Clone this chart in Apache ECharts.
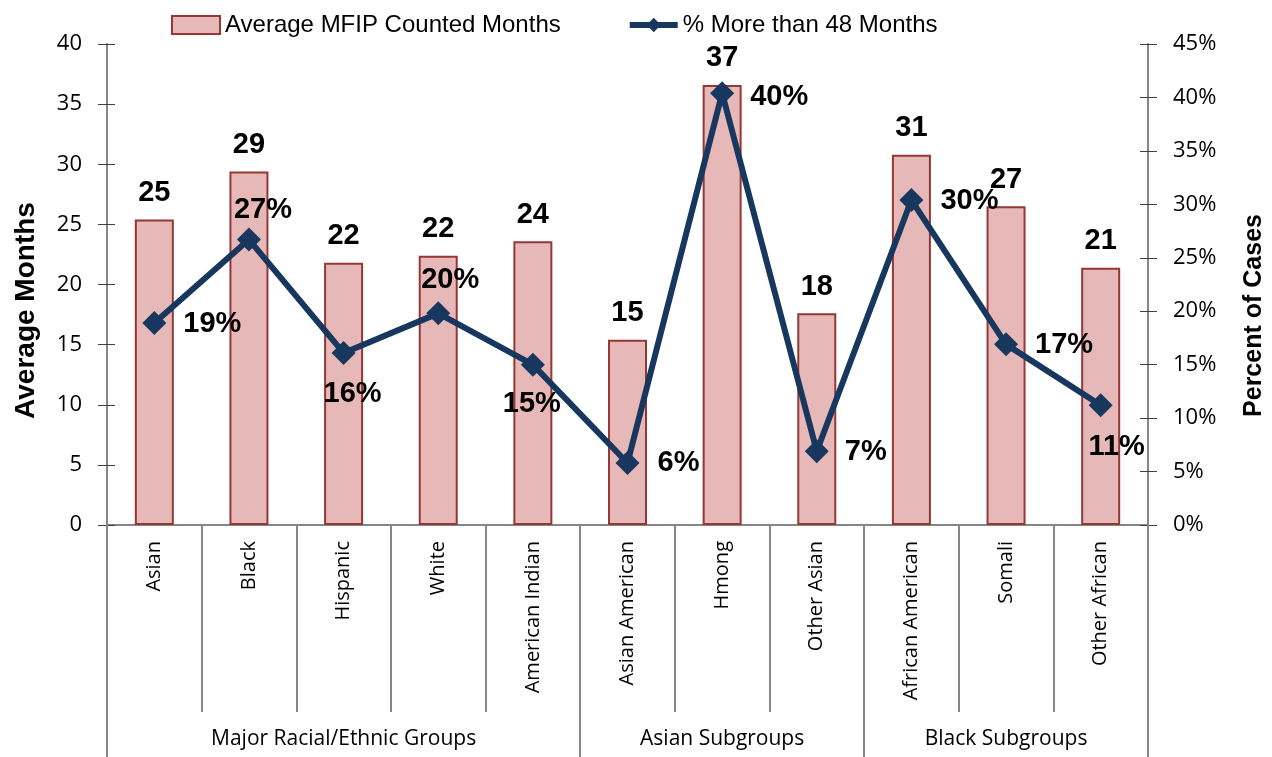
<!DOCTYPE html>
<html>
<head>
<meta charset="utf-8">
<script src="https://cdn.jsdelivr.net/npm/echarts@6/dist/echarts.min.js"></script>
<style>html,body{margin:0;padding:0;background:#fff;}#c{width:1272px;height:757px;}</style>
</head>
<body>
<div id="c"></div>
<script>
const categories = ['Asian','Black','Hispanic','White','American Indian','Asian American','Hmong','Other Asian','African American','Somali','Other African'];
const groupLabels = ['', '', 'Major Racial/Ethnic Groups', '', '', '', 'Asian Subgroups', '', '', 'Black Subgroups', ''];
const groupStartIndices = [0, 5, 8];
const avgMonths = [25.4, 29.4, 21.8, 22.4, 23.6, 15.4, 36.6, 17.6, 30.8, 26.5, 21.4];
const pctOver48 = [18.9, 26.7, 16.1, 19.8, 15.0, 5.8, 40.4, 6.9, 30.4, 16.9, 11.2];
const leftTicks = {min: 0, max: 40, interval: 5};
const rightTicks = {min: 0, max: 45, interval: 5};

// label placement for the line labels (style only)
const labelPlacement = ['right','top','bottom','top','bottom','right','right','right','right','right','bottom'];
const labelShift = [[7,1],[14,7],[9,5],[12,3],[-1,3],[8,0],[6,4],[6,1],[7,1],[7,1],[16,5]];

const chart = echarts.init(document.getElementById('c'), null, {renderer:'canvas'});
const axisGray = '#868686';
const baseFont = 'Open Sans';
const lineData = pctOver48.map((v, i) => ({
  value: v,
  label: {position: labelPlacement[i], offset: labelShift[i]}
}));

const option = {
  animation: false,
  backgroundColor: '#ffffff',
  legend: {
    top: 8, left: 166,
    itemGap: 66,
    itemWidth: 48, itemHeight: 18,
    textStyle: {fontFamily: 'Liberation Sans', fontSize: 24, color: '#000'},
    data: [
      {name: 'Average MFIP Counted Months', icon: 'rect'},
      {name: '% More than 48 Months', lineStyle: {width: 6, color: '#17375E'}}
    ]
  },
  grid: {left: 107, right: 124, top: 44, bottom: 232, containLabel: false, outerBoundsMode: 'none'},
  xAxis: [
    {
      type: 'category', data: categories, position: 'bottom',
      axisLine: {show: true, lineStyle: {color: axisGray, width: 2}},
      axisTick: {show: true, length: 187, lineStyle: {color: axisGray, width: 2}},
      axisLabel: {rotate: 90, interval: 0, margin: 16, fontFamily: baseFont, fontSize: 20, color: '#000'}
    },
    {
      type: 'category', data: groupLabels, position: 'bottom',
      axisLine: {show: false},
      axisTick: {show: true, length: 232, interval: (i) => groupStartIndices.indexOf(i) >= 0, lineStyle: {color: axisGray, width: 2}},
      axisLabel: {interval: 0, margin: 204, fontFamily: baseFont, fontSize: 21, color: '#000'}
    }
  ],
  yAxis: [
    {
      type: 'value', position: 'left', min: leftTicks.min, max: leftTicks.max, interval: leftTicks.interval,
      name: 'Average Months', nameLocation: 'middle', nameRotate: 90, nameGap: 67,
      nameTextStyle: {fontFamily: 'Liberation Sans', fontWeight: 'bold', fontSize: 28, color: '#000', padding: [0, 52, 0, 0]},
      axisLine: {show: true, lineStyle: {color: axisGray, width: 2}},
      axisTick: {show: true, length: 9, lineStyle: {color: '#404040', width: 1}},
      axisLabel: {margin: 25, fontFamily: baseFont, fontSize: 22, color: '#000'},
      splitLine: {show: false}
    },
    {
      type: 'value', position: 'right', min: rightTicks.min, max: rightTicks.max, interval: rightTicks.interval,
      name: 'Percent of Cases', nameLocation: 'middle', nameRotate: 90, nameGap: 94,
      nameTextStyle: {fontFamily: 'Liberation Sans', fontWeight: 'bold', fontSize: 25, color: '#000', padding: [0, 62, 0, 0]},
      axisLine: {show: true, lineStyle: {color: axisGray, width: 2}},
      axisTick: {show: true, length: 9, lineStyle: {color: '#404040', width: 1}},
      axisLabel: {margin: 25, fontFamily: baseFont, fontSize: 22, color: '#000', formatter: '{value}%'},
      splitLine: {show: false}
    },
    {
      type: 'value', position: 'left', min: leftTicks.min, max: leftTicks.max, interval: leftTicks.interval,
      axisLine: {show: false}, axisLabel: {show: false}, splitLine: {show: false},
      axisTick: {show: true, inside: true, length: 8, lineStyle: {color: '#404040', width: 1}}
    },
    {
      type: 'value', position: 'right', min: rightTicks.min, max: rightTicks.max, interval: rightTicks.interval,
      axisLine: {show: false}, axisLabel: {show: false}, splitLine: {show: false},
      axisTick: {show: true, inside: true, length: 8, lineStyle: {color: '#404040', width: 1}}
    }
  ],
  series: [
    {
      name: 'Average MFIP Counted Months', type: 'bar', xAxisIndex: 0, yAxisIndex: 0,
      data: avgMonths, barWidth: 39,
      itemStyle: {color: '#E6B9B8', borderColor: '#953735', borderWidth: 2},
      label: {show: true, position: 'top', distance: 12, fontFamily: 'Liberation Sans', fontWeight: 'bold', fontSize: 29, color: '#000',
        formatter: (p) => Math.round(p.value)},
      z: 2
    },
    {
      name: '% More than 48 Months', type: 'line', xAxisIndex: 0, yAxisIndex: 1,
      data: lineData,
      symbol: 'diamond', symbolSize: 24,
      lineStyle: {color: '#17375E', width: 6},
      itemStyle: {color: '#17375E'},
      label: {show: true, distance: 10, fontFamily: 'Liberation Sans', fontWeight: 'bold', fontSize: 29, color: '#000',
        formatter: (p) => Math.round(p.value) + '%'},
      z: 3
    }
  ]
};
chart.setOption(option);
</script>
</body>
</html>
